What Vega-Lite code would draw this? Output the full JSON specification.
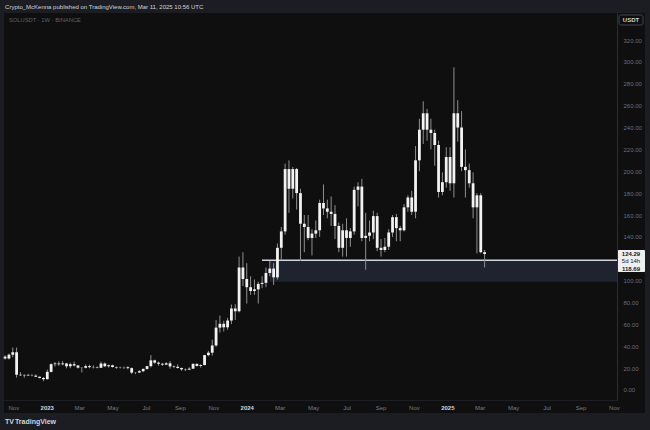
{
  "$schema": "https://vega.github.io/schema/vega-lite/v6.json",
  "width": 613,
  "height": 387,
  "autosize": {"type": "none"},
  "padding": {"left": 4, "top": 13, "right": 33, "bottom": 30},
  "background": "#1b1d23",
  "config": {
    "view": {"stroke": null},
    "font": "Liberation Sans",
    "scale": {"continuousPadding": 0},
    "axis": {"labelOverlap": false, "labelSeparation": 0, "labelBound": false, "title": null}
  },
  "datasets": {
    "candles": [
      {"d": "2022-10-17", "o": 30.5, "h": 31.8, "l": 27.8, "c": 28.8},
      {"d": "2022-10-24", "o": 28.8, "h": 33.3, "l": 27.9, "c": 32.3},
      {"d": "2022-10-31", "o": 32.3, "h": 38.8, "l": 29.9, "c": 34.5},
      {"d": "2022-11-07", "o": 34.5, "h": 38.8, "l": 11.3, "c": 14.0},
      {"d": "2022-11-14", "o": 14.0, "h": 16.3, "l": 12.8, "c": 13.4},
      {"d": "2022-11-21", "o": 13.4, "h": 14.3, "l": 11.2, "c": 13.8},
      {"d": "2022-11-28", "o": 13.8, "h": 14.8, "l": 12.9, "c": 13.3},
      {"d": "2022-12-05", "o": 13.3, "h": 14.5, "l": 12.6, "c": 13.1},
      {"d": "2022-12-12", "o": 13.1, "h": 14.4, "l": 11.9, "c": 12.1},
      {"d": "2022-12-19", "o": 12.1, "h": 12.3, "l": 10.6, "c": 11.0},
      {"d": "2022-12-26", "o": 11.0, "h": 11.9, "l": 8.0, "c": 9.9},
      {"d": "2023-01-02", "o": 9.9, "h": 18.6, "l": 9.6, "c": 16.6},
      {"d": "2023-01-09", "o": 16.6, "h": 24.3, "l": 15.9, "c": 23.6},
      {"d": "2023-01-16", "o": 23.6, "h": 25.5, "l": 21.5, "c": 24.2},
      {"d": "2023-01-23", "o": 24.2, "h": 26.2, "l": 22.1, "c": 23.5},
      {"d": "2023-01-30", "o": 23.5, "h": 26.4, "l": 22.5, "c": 24.3},
      {"d": "2023-02-06", "o": 24.3, "h": 24.6, "l": 19.8, "c": 21.7},
      {"d": "2023-02-13", "o": 21.7, "h": 25.0, "l": 19.9, "c": 23.6},
      {"d": "2023-02-20", "o": 23.6, "h": 26.0, "l": 21.5, "c": 22.4},
      {"d": "2023-02-27", "o": 22.4, "h": 22.8, "l": 19.6, "c": 20.4},
      {"d": "2023-03-06", "o": 20.4, "h": 21.0, "l": 16.0, "c": 20.3},
      {"d": "2023-03-13", "o": 20.3, "h": 23.3, "l": 19.8, "c": 21.8},
      {"d": "2023-03-20", "o": 21.8, "h": 23.1, "l": 19.9, "c": 20.9},
      {"d": "2023-03-27", "o": 20.9, "h": 22.6, "l": 19.7, "c": 20.7},
      {"d": "2023-04-03", "o": 20.7, "h": 21.6, "l": 19.8, "c": 20.3},
      {"d": "2023-04-10", "o": 20.3, "h": 25.9, "l": 20.2, "c": 24.2},
      {"d": "2023-04-17", "o": 24.2, "h": 25.2, "l": 20.8, "c": 21.7},
      {"d": "2023-04-24", "o": 21.7, "h": 23.3, "l": 20.4, "c": 22.6},
      {"d": "2023-05-01", "o": 22.6, "h": 23.2, "l": 20.5, "c": 21.0},
      {"d": "2023-05-08", "o": 21.0, "h": 21.5, "l": 19.3, "c": 20.5},
      {"d": "2023-05-15", "o": 20.5, "h": 21.3, "l": 19.7, "c": 20.7},
      {"d": "2023-05-22", "o": 20.7, "h": 21.5, "l": 19.2, "c": 20.8},
      {"d": "2023-05-29", "o": 20.8, "h": 21.7, "l": 18.9, "c": 20.0},
      {"d": "2023-06-05", "o": 20.0, "h": 20.6, "l": 14.6, "c": 15.9},
      {"d": "2023-06-12", "o": 15.9, "h": 16.3, "l": 14.5, "c": 16.0},
      {"d": "2023-06-19", "o": 16.0, "h": 18.1, "l": 15.5, "c": 17.2},
      {"d": "2023-06-26", "o": 17.2, "h": 19.6, "l": 16.3, "c": 19.3},
      {"d": "2023-07-03", "o": 19.3, "h": 22.0, "l": 18.5, "c": 21.8},
      {"d": "2023-07-10", "o": 21.8, "h": 32.0, "l": 20.7, "c": 27.1},
      {"d": "2023-07-17", "o": 27.1, "h": 27.7, "l": 24.0, "c": 25.0},
      {"d": "2023-07-24", "o": 25.0, "h": 26.0, "l": 22.1, "c": 24.0},
      {"d": "2023-07-31", "o": 24.0, "h": 24.8, "l": 22.0, "c": 23.2},
      {"d": "2023-08-07", "o": 23.2, "h": 25.4, "l": 22.8, "c": 24.4},
      {"d": "2023-08-14", "o": 24.4, "h": 26.4, "l": 19.5, "c": 21.6},
      {"d": "2023-08-21", "o": 21.6, "h": 22.4, "l": 20.0, "c": 21.2},
      {"d": "2023-08-28", "o": 21.2, "h": 23.5, "l": 19.5, "c": 20.1},
      {"d": "2023-09-04", "o": 20.1, "h": 20.5, "l": 17.5, "c": 18.9},
      {"d": "2023-09-11", "o": 18.9, "h": 19.7, "l": 17.3, "c": 18.6},
      {"d": "2023-09-18", "o": 18.6, "h": 20.8, "l": 18.2, "c": 19.5},
      {"d": "2023-09-25", "o": 19.5, "h": 24.3, "l": 19.2, "c": 23.9},
      {"d": "2023-10-02", "o": 23.9, "h": 24.4, "l": 21.3, "c": 22.0},
      {"d": "2023-10-09", "o": 22.0, "h": 23.5, "l": 20.4, "c": 22.8},
      {"d": "2023-10-16", "o": 22.8, "h": 32.0, "l": 22.6, "c": 31.9},
      {"d": "2023-10-23", "o": 31.9, "h": 35.7, "l": 30.8, "c": 34.1},
      {"d": "2023-10-30", "o": 34.1, "h": 46.0, "l": 31.4, "c": 40.7},
      {"d": "2023-11-06", "o": 40.7, "h": 64.0, "l": 39.5, "c": 57.0},
      {"d": "2023-11-13", "o": 57.0, "h": 68.0, "l": 52.5, "c": 60.5},
      {"d": "2023-11-20", "o": 60.5, "h": 63.3, "l": 53.5, "c": 57.3},
      {"d": "2023-11-27", "o": 57.3, "h": 66.0, "l": 55.0, "c": 63.5},
      {"d": "2023-12-04", "o": 63.5, "h": 78.2, "l": 60.2, "c": 74.5},
      {"d": "2023-12-11", "o": 74.5, "h": 78.4, "l": 64.0, "c": 72.0},
      {"d": "2023-12-18", "o": 72.0, "h": 122.0, "l": 71.0, "c": 112.0},
      {"d": "2023-12-25", "o": 112.0, "h": 126.0, "l": 95.0, "c": 101.5},
      {"d": "2024-01-01", "o": 101.5, "h": 116.0, "l": 79.0, "c": 94.0},
      {"d": "2024-01-08", "o": 94.0, "h": 104.0, "l": 87.0, "c": 90.5},
      {"d": "2024-01-15", "o": 90.5, "h": 101.0, "l": 87.0, "c": 92.0},
      {"d": "2024-01-22", "o": 92.0, "h": 99.0, "l": 79.0, "c": 97.0},
      {"d": "2024-01-29", "o": 97.0, "h": 104.0, "l": 93.0, "c": 98.0},
      {"d": "2024-02-05", "o": 98.0, "h": 112.0, "l": 94.0, "c": 107.0},
      {"d": "2024-02-12", "o": 107.0, "h": 118.0, "l": 104.0, "c": 111.0},
      {"d": "2024-02-19", "o": 111.0, "h": 116.0, "l": 96.0, "c": 103.0},
      {"d": "2024-02-26", "o": 103.0, "h": 134.0, "l": 101.0, "c": 130.0},
      {"d": "2024-03-04", "o": 130.0, "h": 149.0, "l": 119.0, "c": 145.0},
      {"d": "2024-03-11", "o": 145.0, "h": 207.0, "l": 142.0, "c": 202.0},
      {"d": "2024-03-18", "o": 202.0, "h": 210.0, "l": 162.0, "c": 184.0},
      {"d": "2024-03-25", "o": 184.0, "h": 204.0, "l": 175.0, "c": 202.0},
      {"d": "2024-04-01", "o": 202.0, "h": 203.0, "l": 165.0, "c": 180.0},
      {"d": "2024-04-08", "o": 180.0, "h": 184.0, "l": 118.0, "c": 152.0},
      {"d": "2024-04-15", "o": 152.0, "h": 160.0, "l": 126.0, "c": 149.0},
      {"d": "2024-04-22", "o": 149.0, "h": 160.0, "l": 137.0, "c": 139.0},
      {"d": "2024-04-29", "o": 139.0, "h": 147.0, "l": 123.0, "c": 143.0},
      {"d": "2024-05-06", "o": 143.0, "h": 155.0, "l": 139.0, "c": 146.0},
      {"d": "2024-05-13", "o": 146.0, "h": 174.0, "l": 140.0, "c": 171.0},
      {"d": "2024-05-20", "o": 171.0, "h": 188.0, "l": 160.0, "c": 166.0},
      {"d": "2024-05-27", "o": 166.0, "h": 174.0, "l": 157.0, "c": 163.0},
      {"d": "2024-06-03", "o": 163.0, "h": 177.0, "l": 150.0, "c": 161.0},
      {"d": "2024-06-10", "o": 161.0, "h": 169.0, "l": 138.0, "c": 150.0},
      {"d": "2024-06-17", "o": 150.0, "h": 153.0, "l": 126.0, "c": 130.0},
      {"d": "2024-06-24", "o": 130.0, "h": 152.0, "l": 122.0, "c": 146.0},
      {"d": "2024-07-01", "o": 146.0, "h": 157.0, "l": 122.0, "c": 139.0},
      {"d": "2024-07-08", "o": 139.0, "h": 148.0, "l": 131.0, "c": 145.0},
      {"d": "2024-07-15", "o": 145.0, "h": 186.0, "l": 142.0, "c": 183.0},
      {"d": "2024-07-22", "o": 183.0, "h": 190.0, "l": 168.0, "c": 186.0},
      {"d": "2024-07-29", "o": 186.0, "h": 193.0, "l": 136.0, "c": 139.0},
      {"d": "2024-08-05", "o": 139.0, "h": 162.0, "l": 110.0, "c": 141.0},
      {"d": "2024-08-12", "o": 141.0, "h": 155.0, "l": 136.0, "c": 144.0},
      {"d": "2024-08-19", "o": 144.0, "h": 164.0, "l": 138.0, "c": 159.0},
      {"d": "2024-08-26", "o": 159.0, "h": 162.0, "l": 127.0, "c": 130.0},
      {"d": "2024-09-02", "o": 130.0, "h": 138.0, "l": 122.0, "c": 128.0},
      {"d": "2024-09-09", "o": 128.0, "h": 139.0, "l": 126.0, "c": 131.0},
      {"d": "2024-09-16", "o": 131.0, "h": 147.0, "l": 128.0, "c": 144.0},
      {"d": "2024-09-23", "o": 144.0, "h": 160.0, "l": 140.0, "c": 158.0},
      {"d": "2024-09-30", "o": 158.0, "h": 161.0, "l": 136.0, "c": 148.0},
      {"d": "2024-10-07", "o": 148.0, "h": 150.0, "l": 136.0, "c": 146.0},
      {"d": "2024-10-14", "o": 146.0, "h": 170.0, "l": 145.0, "c": 167.0},
      {"d": "2024-10-21", "o": 167.0, "h": 178.0, "l": 163.0, "c": 176.0},
      {"d": "2024-10-28", "o": 176.0, "h": 182.0, "l": 160.0, "c": 163.0},
      {"d": "2024-11-04", "o": 163.0, "h": 223.0, "l": 157.0, "c": 210.0},
      {"d": "2024-11-11", "o": 210.0, "h": 248.0, "l": 200.0, "c": 238.0},
      {"d": "2024-11-18", "o": 238.0, "h": 264.0, "l": 225.0, "c": 253.0},
      {"d": "2024-11-25", "o": 253.0, "h": 257.0, "l": 228.0, "c": 238.0},
      {"d": "2024-12-02", "o": 238.0, "h": 248.0, "l": 220.0, "c": 235.0},
      {"d": "2024-12-09", "o": 235.0, "h": 238.0, "l": 205.0, "c": 224.0},
      {"d": "2024-12-16", "o": 224.0, "h": 228.0, "l": 176.0, "c": 181.0},
      {"d": "2024-12-23", "o": 181.0, "h": 199.0, "l": 178.0, "c": 190.0},
      {"d": "2024-12-30", "o": 190.0, "h": 222.0, "l": 185.0, "c": 213.0},
      {"d": "2025-01-06", "o": 213.0, "h": 222.0, "l": 182.0, "c": 189.0},
      {"d": "2025-01-13", "o": 189.0, "h": 295.0, "l": 176.0, "c": 253.0},
      {"d": "2025-01-20", "o": 253.0, "h": 265.0, "l": 227.0, "c": 240.0},
      {"d": "2025-01-27", "o": 240.0, "h": 255.0, "l": 200.0, "c": 204.0},
      {"d": "2025-02-03", "o": 204.0, "h": 220.0, "l": 176.0, "c": 201.0},
      {"d": "2025-02-10", "o": 201.0, "h": 207.0, "l": 185.0, "c": 189.0},
      {"d": "2025-02-17", "o": 189.0, "h": 199.0, "l": 157.0, "c": 167.0},
      {"d": "2025-02-24", "o": 167.0, "h": 180.0, "l": 125.0, "c": 178.0},
      {"d": "2025-03-03", "o": 178.0, "h": 180.0, "l": 125.0, "c": 126.0},
      {"d": "2025-03-10", "o": 126.0, "h": 128.0, "l": 112.0, "c": 124.29}
    ]
  },
  "layer": [
    {
      "data": {"values": [{}]},
      "mark": {"type": "rect", "color": "#0f0f0f"},
      "encoding": {
        "x": {"datum": {"year": 2022, "month": 10, "date": 15, "utc": true}, "type": "temporal"},
        "x2": {"datum": {"year": 2025, "month": 12, "date": 27, "hours": 17, "utc": true}},
        "y": {"datum": -21.03, "type": "quantitative"},
        "y2": {"datum": 344.686}
      }
    },
    {
      "data": {"values": [{}]},
      "mark": {"type": "rect", "color": "#1f2330"},
      "encoding": {
        "x": {"datum": {"year": 2024, "month": 2, "date": 12, "hours": 10, "utc": true}, "type": "temporal"},
        "x2": {"datum": {"year": 2025, "month": 11, "date": 6, "hours": 14, "minutes": 43, "utc": true}},
        "y": {"datum": 99, "type": "quantitative"},
        "y2": {"datum": 118.69}
      }
    },
    {
      "data": {"values": [{}]},
      "mark": {"type": "rule", "color": "#d1d4dc", "strokeWidth": 1.5},
      "encoding": {
        "x": {"datum": {"year": 2024, "month": 1, "date": 28, "hours": 19, "utc": true}, "type": "temporal"},
        "x2": {"datum": {"year": 2025, "month": 11, "date": 6, "hours": 14, "minutes": 43, "utc": true}},
        "y": {"datum": 118.69, "type": "quantitative"}
      }
    },
    {
      "data": {"name": "candles"},
      "mark": {"type": "rule", "color": "#8f8f8f", "strokeWidth": 1},
      "encoding": {
        "x": {"field": "d", "type": "temporal", "title": null},
        "y": {"field": "l", "type": "quantitative", "title": null},
        "y2": {"field": "h"}
      }
    },
    {
      "data": {"name": "candles"},
      "mark": {"type": "bar", "color": "#f2f2f2", "width": 2.8},
      "encoding": {
        "x": {
          "field": "d",
          "type": "temporal",
          "title": null,
          "scale": {
            "type": "utc",
            "padding": 0,
            "domain": [
              {"year": 2022, "month": 10, "date": 15, "utc": true},
              {"year": 2025, "month": 11, "date": 6, "hours": 14, "minutes": 43, "utc": true}
            ],
            "nice": false
          },
          "axis": {
            "orient": "bottom",
            "zindex": 2,
            "grid": false,
            "ticks": false,
            "tickCount": 60,
            "domain": true,
            "domainColor": "#2a2e39",
            "domainDash": [1, 1],
            "labelPadding": 4,
            "labelFontSize": 6,
            "labelFont": "Liberation Sans",
            "labelFlush": false,
            "labelOverlap": false,
            "labelColor": {"condition": {"test": "utcmonth(datum.value) == 0", "value": "#d1d4dc"}, "value": "#787b86"},
            "labelFontWeight": {"condition": {"test": "utcmonth(datum.value) == 0", "value": "bold"}, "value": "normal"},
            "labelExpr": "utcmonth(datum.value) == 0 ? utcFormat(datum.value, '%Y') : utcFormat(datum.value, '%b')",
            "values": [
              {"year": 2022, "month": 11, "date": 1, "utc": true},
              {"year": 2023, "month": 1, "date": 1, "utc": true},
              {"year": 2023, "month": 3, "date": 1, "utc": true},
              {"year": 2023, "month": 5, "date": 1, "utc": true},
              {"year": 2023, "month": 7, "date": 1, "utc": true},
              {"year": 2023, "month": 9, "date": 1, "utc": true},
              {"year": 2023, "month": 11, "date": 1, "utc": true},
              {"year": 2024, "month": 1, "date": 1, "utc": true},
              {"year": 2024, "month": 3, "date": 1, "utc": true},
              {"year": 2024, "month": 5, "date": 1, "utc": true},
              {"year": 2024, "month": 7, "date": 1, "utc": true},
              {"year": 2024, "month": 9, "date": 1, "utc": true},
              {"year": 2024, "month": 11, "date": 1, "utc": true},
              {"year": 2025, "month": 1, "date": 1, "utc": true},
              {"year": 2025, "month": 3, "date": 1, "utc": true},
              {"year": 2025, "month": 5, "date": 1, "utc": true},
              {"year": 2025, "month": 7, "date": 1, "utc": true},
              {"year": 2025, "month": 9, "date": 1, "utc": true},
              {"year": 2025, "month": 11, "date": 1, "utc": true}
            ]
          }
        },
        "y": {
          "field": "o",
          "type": "quantitative",
          "title": null,
          "scale": {"domain": [-9.143, 344.686], "nice": false, "zero": false, "padding": 0},
          "axis": {
            "orient": "right",
            "zindex": 2,
            "grid": false,
            "ticks": false,
            "tickCount": 60,
            "domain": true,
            "domainColor": "#2a2e39",
            "labelPadding": 6,
            "labelFontSize": 6,
            "labelFont": "Liberation Sans",
            "labelColor": "#6b6e79",
            "labelFlush": false,
            "labelOverlap": false,
            "format": ".2f",
            "values": [0, 20, 40, 60, 80, 100, 140, 160, 180, 200, 220, 240, 260, 280, 300, 320]
          }
        },
        "y2": {"field": "c"}
      }
    },
    {
      "data": {"values": [{}]},
      "mark": {"type": "rect", "color": "#eeeeee", "cornerRadius": 1},
      "encoding": {
        "x": {"datum": {"year": 2025, "month": 11, "date": 8, "hours": 9, "utc": true}, "type": "temporal"},
        "x2": {"datum": {"year": 2025, "month": 12, "date": 27, "hours": 17, "utc": true}},
        "y": {"datum": 128.0, "type": "quantitative"},
        "y2": {"datum": 107.9}
      }
    },
    {
      "data": {"values": [{}]},
      "mark": {"type": "text", "text": "124.29", "align": "center", "baseline": "middle", "fontSize": 6, "fontWeight": "bold", "color": "#131722"},
      "encoding": {
        "x": {"datum": {"year": 2025, "month": 12, "date": 2, "hours": 5, "utc": true}, "type": "temporal"},
        "y": {"datum": 124.3, "type": "quantitative"}
      }
    },
    {
      "data": {"values": [{}]},
      "mark": {"type": "text", "text": "5d 14h", "align": "center", "baseline": "middle", "fontSize": 6, "color": "#131722"},
      "encoding": {
        "x": {"datum": {"year": 2025, "month": 12, "date": 2, "hours": 5, "utc": true}, "type": "temporal"},
        "y": {"datum": 117.5, "type": "quantitative"}
      }
    },
    {
      "data": {"values": [{}]},
      "mark": {"type": "text", "text": "118.69", "align": "center", "baseline": "middle", "fontSize": 6, "fontWeight": "bold", "color": "#131722"},
      "encoding": {
        "x": {"datum": {"year": 2025, "month": 12, "date": 2, "hours": 5, "utc": true}, "type": "temporal"},
        "y": {"datum": 110.6, "type": "quantitative"}
      }
    },
    {
      "data": {"values": [{}]},
      "mark": {"type": "rect", "color": "#0f0f0f", "stroke": "#434651", "strokeWidth": 1, "cornerRadius": 2},
      "encoding": {
        "x": {"datum": {"year": 2025, "month": 11, "date": 10, "hours": 7, "utc": true}, "type": "temporal"},
        "x2": {"datum": {"year": 2025, "month": 12, "date": 24, "hours": 2, "utc": true}},
        "y": {"datum": 342.86, "type": "quantitative"},
        "y2": {"datum": 333.71}
      }
    },
    {
      "data": {"values": [{}]},
      "mark": {"type": "text", "text": "USDT", "align": "center", "baseline": "middle", "fontSize": 6, "fontWeight": "bold", "color": "#d1d4dc"},
      "encoding": {
        "x": {"datum": {"year": 2025, "month": 12, "date": 2, "hours": 5, "utc": true}, "type": "temporal"},
        "y": {"datum": 338.3, "type": "quantitative"}
      }
    },
    {
      "data": {"values": [{}]},
      "mark": {"type": "text", "text": "Crypto_McKenna published on TradingView.com, Mar 11, 2025 10:56 UTC", "align": "left", "baseline": "middle", "fontSize": 6, "color": "#d1d4dc"},
      "encoding": {
        "x": {"datum": {"year": 2022, "month": 10, "date": 17, "utc": true}, "type": "temporal"},
        "y": {"datum": 350.2, "type": "quantitative"}
      }
    },
    {
      "data": {"values": [{}]},
      "mark": {"type": "text", "text": "SOLUSDT · 1W · BINANCE", "align": "left", "baseline": "middle", "fontSize": 5.8, "color": "#5d606b"},
      "encoding": {
        "x": {"datum": {"year": 2022, "month": 10, "date": 24, "utc": true}, "type": "temporal"},
        "y": {"datum": 338.3, "type": "quantitative"}
      }
    },
    {
      "data": {"values": [{}]},
      "mark": {"type": "text", "text": "TV", "align": "left", "baseline": "middle", "fontSize": 7, "fontWeight": "bold", "color": "#d1d4dc"},
      "encoding": {
        "x": {"datum": {"year": 2022, "month": 10, "date": 17, "utc": true}, "type": "temporal"},
        "y": {"datum": -29.26, "type": "quantitative"}
      }
    },
    {
      "data": {"values": [{}]},
      "mark": {"type": "text", "text": "TradingView", "align": "left", "baseline": "middle", "fontSize": 7, "fontWeight": "bold", "color": "#d1d4dc"},
      "encoding": {
        "x": {"datum": {"year": 2022, "month": 11, "date": 4, "utc": true}, "type": "temporal"},
        "y": {"datum": -29.26, "type": "quantitative"}
      }
    }
  ]
}
